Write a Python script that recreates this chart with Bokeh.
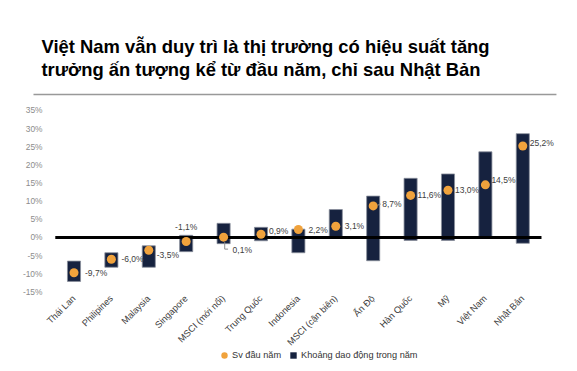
from math import pi
from bokeh.plotting import figure
from bokeh.models import (ColumnDataSource, Range1d, FixedTicker, Title, Legend,
                          LegendItem, LinearAxis)
from bokeh.embed import file_html
from bokeh.resources import INLINE

# ---- data ----
categories = ["Thái Lan", "Philipines", "Malaysia", "Singapore", "MSCI (mới nổi)",
              "Trung Quốc", "Indonesia", "MSCI (cận biên)", "Ấn Độ", "Hàn Quốc",
              "Mỹ", "Việt Nam", "Nhật Bản"]
ytd = [-9.7, -6.0, -3.5, -1.1, 0.1, 0.9, 2.2, 3.1, 8.7, 11.6, 13.0, 14.5, 25.2]
range_low = [-12.1, -8.2, -8.2, -3.9, -1.7, -0.9, -4.2, -0.2, -6.4, -0.8, -0.8, 0.0, -1.6]
range_high = [-6.5, -4.2, -2.3, 0.6, 3.9, 2.8, 2.3, 7.7, 11.4, 16.3, 17.5, 23.6, 28.6]
value_labels = ["-9,7%", "-6,0%", "-3,5%", "-1,1%", "0,1%", "0,9%", "2,2%", "3,1%",
                "8,7%", "11,6%", "13,0%", "14,5%", "25,2%"]
y_ticks = [-15, -10, -5, 0, 5, 10, 15, 20, 25, 30, 35]
title_line1 = "Việt Nam vẫn duy trì là thị trường có hiệu suất tăng"
title_line2 = "trưởng ấn tượng kể từ đầu năm, chỉ sau Nhật Bản"
legend_labels = ["Sv đầu năm", "Khoảng dao động trong năm"]

# label placement (screen px offsets)
lab_dx = [11, 10, 8, 0, 9, 8, 10, 9, 9, 7, 7, 6, 7]
lab_dy = [0, 0, 5, -14, 13, -3, 0, 0, -2, 0, 0, -5, -3]
lab_align = ["left"] * 13
lab_align[3] = "center"

FONT = "Liberation Sans"
NAVY = "#16223f"
ORANGE = "#f0a23c"

W, H = 569, 365
xs = list(range(len(categories)))
src = ColumnDataSource(dict(x=xs, ytd=ytd, low=range_low, high=range_high,
                            lab=value_labels, dx=lab_dx, dy=lab_dy, al=lab_align))

p = figure(width=W, height=H, output_backend="svg", toolbar_location=None,
           x_range=Range1d(-1.965, 13.249), y_range=Range1d(-35.26, 39.94),
           min_border_left=0, min_border_right=0, min_border_bottom=0,
           min_border_top=92, outline_line_color=None,
           x_axis_location=None, y_axis_location=None)
p.grid.visible = False
p.background_fill_color = "white"
p.border_fill_color = "white"

# title (two lines)
t = Title(text=title_line1 + "\n" + title_line2, align="left", offset=41,
          text_font=FONT, text_font_size="18.4px", text_font_style="bold",
          text_color="#000000", text_line_height=1.1, standoff=24)
p.add_layout(t, "above")

# separator line under the title
p.segment(x0=-1.083, x1=12.9, y0=39.4, y1=39.4, line_color="#999999", line_width=1.5)

# axes
yax = LinearAxis(ticker=FixedTicker(ticks=y_ticks), fixed_location=-0.575)
yax.axis_line_color = None
yax.major_tick_line_color = None
yax.minor_tick_line_color = None
yax.major_label_text_font = FONT
yax.major_label_text_font_size = "8.4px"
yax.major_label_text_color = "#8c8c8c"
yax.major_label_standoff = 4
yax.major_label_overrides = {t_: f"{t_}%" for t_ in y_ticks}
p.add_layout(yax, "left")

xax = LinearAxis(ticker=FixedTicker(ticks=xs), fixed_location=-13.9)
xax.axis_line_color = None
xax.major_tick_line_color = None
xax.minor_tick_line_color = None
xax.major_label_orientation = pi / 4
xax.major_label_text_font = FONT
xax.major_label_text_font_size = "9.2px"
xax.major_label_text_color = "#404040"
xax.major_label_standoff = 3
xax.major_label_overrides = {i: c for i, c in enumerate(categories)}
p.add_layout(xax, "below")

# range bars
bars = p.vbar(x="x", bottom="low", top="high", width=0.35, source=src,
              fill_color=NAVY, line_color="#8a8f9c", line_width=0.8)

# zero line
p.segment(x0=-0.5, x1=12.5, y0=0, y1=0, line_color="#000000", line_width=3)

# leader line for MSCI (mới nổi)
p.line(x=[4.03, 4.03, 4.12], y=[-1.3, -3.2, -3.2], line_color="#909090", line_width=1)
# small leader for Ấn Độ
p.segment(x0=[8.12], x1=[8.2], y0=[8.9], y1=[9.2], line_color="#909090", line_width=1)

# dots
dots = p.scatter(x="x", y="ytd", source=src, size=9, fill_color=ORANGE,
                 line_color=None, marker="circle")

# value labels
p.text(x="x", y="ytd", text="lab", source=src, x_offset="dx", y_offset="dy",
       text_align="al", text_baseline="middle", text_font_size="8.5px",
       text_font={"value": FONT}, text_color="#404040")

# square swatch for the legend (zero-size markers, only the legend shows them)
leg_sq = p.scatter(x="x", y="high", source=src, marker="square", size=0,
                   fill_color=NAVY, line_color=None)

legend = Legend(items=[LegendItem(label=legend_labels[0], renderers=[dots]),
                       LegendItem(label=legend_labels[1], renderers=[leg_sq])],
                orientation="horizontal", location=(216, 2),
                label_text_font=FONT, label_text_font_size="9.2px",
                label_text_color="#333333", glyph_width=16, glyph_height=16,
                label_standoff=-3, spacing=4, padding=2, margin=0,
                border_line_color=None, background_fill_alpha=0)
p.add_layout(legend)

open("out.html", "w").write(file_html(p, INLINE))
